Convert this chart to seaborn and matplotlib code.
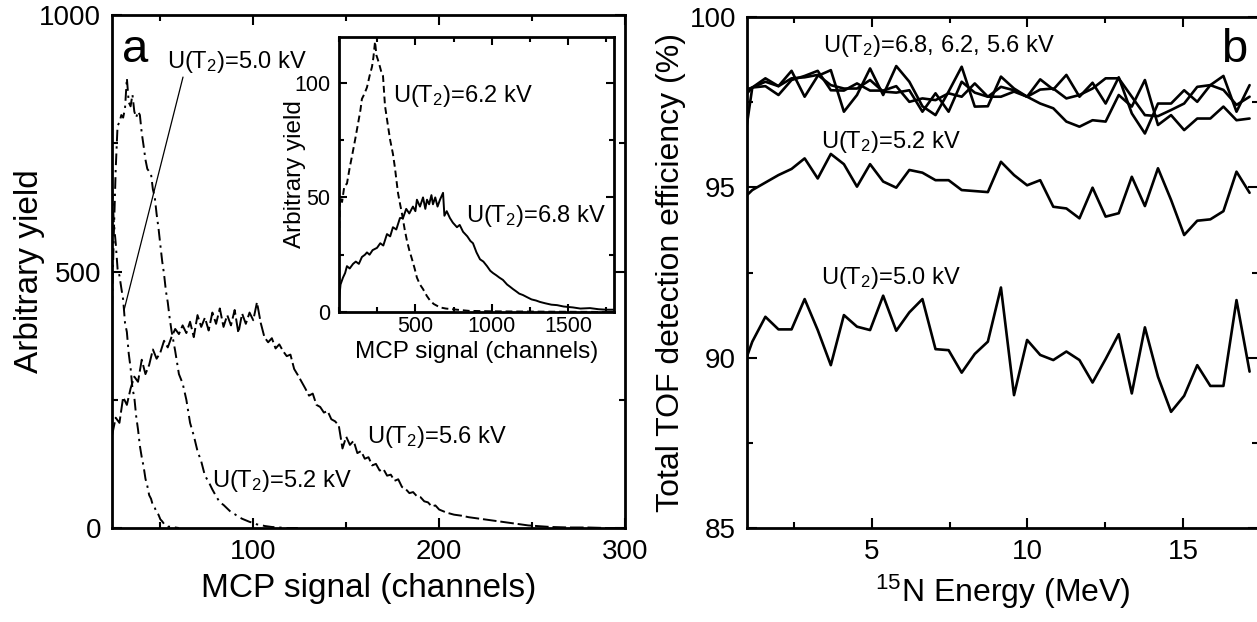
import matplotlib
matplotlib.use("Agg")
import matplotlib.pyplot as plt
import seaborn as sns
import pandas as pd
from matplotlib.ticker import MultipleLocator, FixedLocator

# ---------------- data: panel a (main) ----------------
ch50 = [24,25,26,27,28,29,30,31,32,33,34,35,36,37,38,39,40,41,42,43,44,45,46,47,48,49,50,51,52,53,54,56,58,60]
y50 = [665,595,555,505,492,468,445,400,382,340,312,272,255,218,192,160,138,120,96,82,64,57,44,40,29,26,17,13,8,7,3,2,1,0]

ch52 = [24,25,26,27,28,29,30,31,32,33,34,35,36,37,38,39,40,41,42,43,44,45,46,47,48,49,50,51,52,53,54,55,56,
        58,60,62,64,66,68,70,72,74,76,78,80,82,84,86,88,90,92,94,96,98,100,102,104,106,108,110,114,118,124]
y52 = [430,575,700,785,790,805,800,818,877,830,822,845,812,800,812,805,770,745,718,700,695,690,660,645,612,585,552,520,495,462,440,410,385,
       345,300,282,250,205,180,150,130,102,90,75,62,50,45,38,31,27,22,18,15,12,10,7,6,4,3,2,1,0,0]

ch56 = [24,26,28,30,32,34,36,38,40,42,44,46,48,50,52,54,56,58,60,62,64,66,68,70,72,74,76,78,80,82,84,86,88,90,92,94,96,98,100,
        102,104,106,108,110,112,114,116,118,120,122,124,126,128,130,132,134,136,138,140,142,144,146,148,150,152,154,156,158,160,
        162,164,166,168,170,172,174,176,178,180,182,184,186,188,190,192,194,196,198,200,
        204,208,212,216,220,224,228,232,236,240,244,248,252,256,260,270,280,290,300]
y56 = [180,215,205,255,240,272,295,285,328,300,318,348,330,342,365,352,372,388,378,395,380,402,372,415,392,410,385,420,398,428,392,415,395,425,380,418,398,420,405,
       440,400,372,362,370,350,358,345,335,338,310,298,285,272,258,262,240,236,225,228,212,208,200,155,178,162,170,146,150,135,
       138,122,125,112,115,102,104,92,95,80,76,68,70,62,60,52,50,42,44,36,
       30,26,24,21,19,17,15,13,11,9,7,5,4,3,2,1,1,0,0]

# ---------------- data: panel a (inset) ----------------
ch62 = [0,7,20,35,52,70,85,105,124,140,150,165,183,200,216,225,236,245,255,268,280,288,301,310,321,335,353,366,386,400,
        412,430,445,460,478,495,510,530,550,575,596,620,661,700,772,850,1000,1200,1500,1800]
y62 = [32,50,48,55,56,63,68,75,82,88,93,95,98,103,107,111,118,112,110,107,104,103,90,86,81,75,69,63,52,47,
       43,36,31,27,23,19,15,12,10,7,5,3.5,2,1.5,1,0.5,0.3,0.2,0.1,0]

ch68 = [0,10,26,40,52,70,92,110,130,150,170,183,200,220,249,270,290,314,335,353,375,399,419,440,460,484,500,510,530,550,
        565,576,590,605,615,630,645,661,681,690,705,726,745,772,790,812,840,860,877,900,923,945,969,990,1008,1030,1050,1073,
        1100,1120,1139,1160,1180,1204,1230,1260,1290,1315,1350,1390,1427,1470,1500,1531,1580,1643,1700,1750,1800]
y68 = [5,12,15,17,20,19,21,22,21,24,25,26,25,27,28,30,29,34,33,37,36,41,41,45,43,46,44,49,46,50,
       45,49,47,51,47,50,46,49,52,42,44,41,39,37,38,35,33,31,30,26,23,22,20,18,17,16,15,14,
       12,11,10,9,8,7.4,6.5,5.5,5,4.4,3.8,3.2,3,2.4,2.2,2,1.5,1.7,1.2,1.0,1.0]

# ---------------- data: panel b ----------------
energy = [0.75,1.17,1.59,2.01,2.43,2.85,3.27,3.69,4.11,4.53,4.95,5.37,5.79,6.21,6.63,7.05,7.47,7.89,8.31,8.73,
          9.15,9.57,9.99,10.41,10.83,11.25,11.67,12.09,12.51,12.93,13.35,13.77,14.19,14.61,15.03,15.45,15.87,16.29,16.71,17.13]
eff68 = [95.30,97.93,98.20,97.97,98.42,97.66,98.27,98.44,97.22,97.71,98.49,97.71,98.56,98.10,97.38,97.12,97.81,98.54,97.37,97.38,
         98.25,97.90,97.66,98.17,97.87,98.30,97.66,98.07,97.46,98.23,97.17,96.58,97.46,97.46,97.85,97.51,98.00,98.27,97.22,98.00]
eff62 = [97.80,97.93,98.10,97.97,98.20,98.23,98.30,98.00,97.90,97.90,98.15,97.81,97.78,97.85,97.22,97.76,97.22,98.10,97.78,97.66,
         97.95,97.85,97.66,97.87,97.90,97.61,97.71,97.90,98.20,98.20,97.66,97.12,97.09,97.27,97.46,97.95,98.00,97.86,97.42,97.66]
eff56 = [97.50,97.93,97.97,97.71,98.15,98.27,98.42,97.85,97.84,98.05,97.84,97.84,97.97,97.51,97.61,97.56,97.76,97.66,98.05,97.66,
         97.66,97.81,97.66,97.46,97.32,96.93,96.78,96.97,96.93,97.71,97.37,98.15,96.83,97.12,96.68,97.02,97.02,97.37,96.97,97.02]
eff52 = [94.55,94.92,95.14,95.36,95.54,95.85,95.26,95.98,95.68,95.02,95.68,95.17,94.99,95.51,95.43,95.21,95.21,94.92,94.89,94.86,
         95.75,95.36,95.06,95.21,94.43,94.38,94.09,94.99,94.14,94.24,95.31,94.45,95.56,94.63,93.60,94.02,94.06,94.30,95.46,94.84]
eff50 = [89.40,90.47,91.20,90.83,90.83,91.72,90.81,89.78,91.25,90.91,90.81,91.82,90.79,91.33,91.72,90.25,90.22,89.56,90.11,90.47,
         92.06,88.90,90.52,90.08,89.93,90.18,89.93,89.27,89.96,90.69,88.95,90.89,89.44,88.41,88.88,89.78,89.17,89.17,91.69,89.59]

# ---------------- style ----------------
sns.set_style("ticks")
plt.rcParams.update({
    "font.family": ["Liberation Sans", "DejaVu Sans"],
    "mathtext.fontset": "custom",
    "mathtext.rm": "Liberation Sans",
    "mathtext.it": "Liberation Sans:italic",
    "mathtext.bf": "Liberation Sans:bold",
    "mathtext.default": "regular",
    "axes.edgecolor": "black",
    "axes.linewidth": 2.0,
    "xtick.color": "black",
    "ytick.color": "black",
    "text.color": "black",
    "axes.labelcolor": "black",
})

W, H = 1257, 622
fig = plt.figure(figsize=(W / 100, H / 100), dpi=100)
fig.patch.set_facecolor("white")

def px_axes(l, t, r, b):
    return fig.add_axes([l / W, (H - b) / H, (r - l) / W, (b - t) / H])

ax1 = px_axes(112, 15, 625, 528)
ax2 = px_axes(747, 17, 1258, 528)
axi = px_axes(339, 37, 614, 312)

def draw(ax, x, y, ls, lw):
    df = pd.DataFrame({"x": x, "y": y})
    sns.lineplot(data=df, x="x", y="y", ax=ax, color="black", lw=lw, estimator=None, sort=False)
    ax.lines[-1].set_linestyle(ls)

def style_axes(ax, tsize, pad, major_len, minor_len):
    ax.tick_params(which="both", direction="in", top=True, right=True, labelsize=tsize, width=1.5, pad=pad)
    ax.tick_params(which="major", length=major_len)
    ax.tick_params(which="minor", length=minor_len)
    for s in ax.spines.values():
        s.set_visible(True)
        s.set_linewidth(2.0)
        s.set_color("black")

# ---- panel a main ----
draw(ax1, ch50, y50, (0, (6, 2.5, 1.2, 2.5)), 1.4)
draw(ax1, ch52, y52, (0, (6, 2.5, 1.2, 2.5)), 1.4)
draw(ax1, ch56, y56, (0, (7, 2)), 1.4)
ax1.set_xlim(24, 300)
ax1.set_ylim(0, 1000)
ax1.xaxis.set_major_locator(FixedLocator([100, 200, 300]))
ax1.xaxis.set_minor_locator(MultipleLocator(50))
ax1.yaxis.set_major_locator(FixedLocator([0, 500, 1000]))
ax1.yaxis.set_minor_locator(MultipleLocator(250))
style_axes(ax1, 20, 8, 7, 4)
ax1.set_xlabel("MCP signal (channels)", fontsize=24)
ax1.set_ylabel("Arbitrary yield", fontsize=24)
ax1.xaxis.set_label_coords(0.5, -0.088)
ax1.yaxis.set_label_coords(-0.13, 0.5)

# ---- inset ----
axi.set_facecolor("white")
draw(axi, ch62, y62, (0, (3.5, 2)), 1.4)
draw(axi, ch68, y68, "-", 1.4)
axi.set_xlim(0, 1800)
axi.set_ylim(0, 120)
axi.xaxis.set_major_locator(FixedLocator([500, 1000, 1500]))
axi.xaxis.set_minor_locator(MultipleLocator(250))
axi.yaxis.set_major_locator(FixedLocator([0, 50, 100]))
axi.yaxis.set_minor_locator(MultipleLocator(25))
style_axes(axi, 15.5, 3, 6, 3.5)
axi.tick_params(axis="y", pad=6)
axi.set_xlabel("MCP signal (channels)", fontsize=17.5)
axi.set_ylabel("Arbitrary yield", fontsize=17.5)
axi.xaxis.set_label_coords(0.5, -0.105)
axi.yaxis.set_label_coords(-0.12, 0.5)

# ---- panel b ----
for e in (eff68, eff62, eff56, eff52, eff50):
    draw(ax2, energy, e, "-", 1.9)
ax2.set_xlim(1, 17.4)
ax2.set_ylim(85, 100)
ax2.xaxis.set_major_locator(FixedLocator([5, 10, 15]))
ax2.xaxis.set_minor_locator(MultipleLocator(2.5))
ax2.yaxis.set_major_locator(FixedLocator([85, 90, 95, 100]))
ax2.yaxis.set_minor_locator(MultipleLocator(2.5))
style_axes(ax2, 20, 8, 7, 4)
ax2.set_xlabel("$^{15}$N Energy (MeV)", fontsize=23)
ax2.set_ylabel("Total TOF detection efficiency (%)", fontsize=23)
ax2.xaxis.set_label_coords(0.5, -0.088)
ax2.yaxis.set_label_coords(-0.119, 0.5)

# ---- texts ----
def ftext(x, y, s, size, **kw):
    fig.text(x / W, (H - y) / H, s, fontsize=size, va="baseline", ha="left", **kw)

ftext(122, 62, "a", 34)
ftext(1221, 62, "b", 34)
ftext(167, 68, "U(T$_2$)=5.0 kV", 17)
ftext(212, 487, "U(T$_2$)=5.2 kV", 17)
ftext(367, 443, "U(T$_2$)=5.6 kV", 17)
ftext(393, 102, "U(T$_2$)=6.2 kV", 17)
ftext(466, 222, "U(T$_2$)=6.8 kV", 17)
ftext(823, 52, "U(T$_2$)=6.8, 6.2, 5.6 kV", 17)
ftext(821, 148, "U(T$_2$)=5.2 kV", 17)
ftext(821, 284, "U(T$_2$)=5.0 kV", 17)

# pointer from 5.0 kV label to its curve
ax1.annotate("", xy=(30.5, 425), xytext=(62.2, 879),
             arrowprops=dict(arrowstyle="-", lw=0.9, color="black", shrinkA=0, shrinkB=0))

fig.savefig("out.png", dpi=100, facecolor="white")
